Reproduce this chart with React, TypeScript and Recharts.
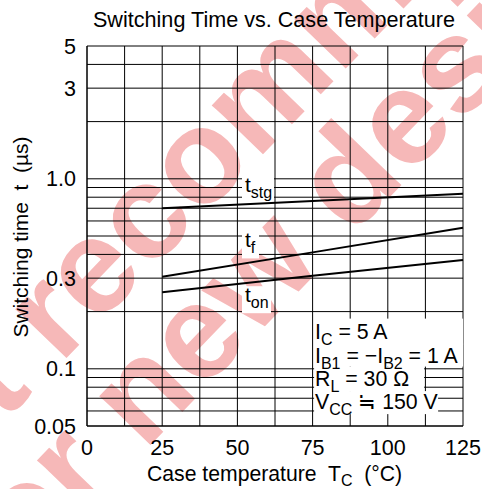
import React from "react";
import {
  LineChart,
  Line,
  XAxis,
  YAxis,
  CartesianGrid,
  ReferenceDot,
} from "recharts";

const FONT = "'Liberation Sans', Arial, Helvetica, sans-serif";

// values (Tc in °C, time in µs)
const temps = [25, 75, 125];
const tStg = [0.7, 0.765, 0.835];
const tF = [0.305, 0.41, 0.553];
const tOn = [0.253, 0.309, 0.374];

const xTicks = [0, 12.5, 25, 37.5, 50, 62.5, 75, 87.5, 100, 112.5, 125];
const xTickLabels = ["0", "25", "50", "75", "100", "125"];
const yGrid = [
  0.05, 0.06, 0.07, 0.08, 0.09, 0.1, 0.2, 0.3, 0.4, 0.5, 0.6, 0.7, 0.8, 0.9, 1,
  2, 3, 4, 5,
];
const yTickValues = [0.05, 0.1, 0.3, 1, 3, 5];
const yTickLabels = ["0.05", "0.1", "0.3", "1.0", "3", "5"];

const conditions = [
  { main: "I", sub: "C", rest: " = 5 A" },
  { main: "I", sub: "B1", rest: " = \u2212I", sub2: "B2", rest2: " = 1 A" },
  { main: "R", sub: "L", rest: " = 30 \u03A9" },
  { main: "V", sub: "CC", rest: " \u2252 150 V" },
];

const rows = temps.map((t, i) => ({
  T: t,
  tstg: tStg[i],
  tf: tF[i],
  ton: tOn[i],
}));

const fmtX = (v: number) => {
  const s = String(v);
  return xTickLabels.includes(s) ? s : "";
};
const fmtY = (v: number) => {
  const i = yTickValues.indexOf(v);
  return i >= 0 ? yTickLabels[i] : "";
};

function Tag(props: any) {
  const { cx, cy, sub, box, text } = props;
  return (
    <g>
      <rect x={cx + box[0]} y={cy + box[1]} width={box[2]} height={box[3]} fill="#fff" />
      <text x={cx + text[0]} y={cy + text[1]} fontSize={21} fontFamily={FONT} fill="#000">
        t
        <tspan fontSize={16} dy={6}>
          {sub}
        </tspan>
      </text>
    </g>
  );
}

function Conditions(props: any) {
  const { cx, cy } = props;
  const boxes = [
    [1.5, 7, 149, 26],
    [1.5, 32, 149, 23],
    [1.5, 55, 110, 25],
    [1.5, 79.5, 124, 23],
  ];
  const baselines = [27.8, 51.2, 74.8, 97.8];
  return (
    <g>
      {boxes.map((b, i) => (
        <rect key={i} x={cx + b[0]} y={cy + b[1]} width={b[2]} height={b[3]} fill="#fff" />
      ))}
      {conditions.map((c, i) => (
        <text
          key={i}
          x={cx + 2.4}
          y={cy + baselines[i]}
          fontSize={21.3}
          fontFamily={FONT}
          fill="#000"
          style={{ whiteSpace: "pre" }}
        >
          {c.main}
          <tspan fontSize={16} dy={6}>
            {c.sub}
          </tspan>
          <tspan dy={-6}>{c.rest}</tspan>
          {c.sub2 && (
            <>
              <tspan fontSize={16} dy={6}>
                {c.sub2}
              </tspan>
              <tspan dy={-6}>{c.rest2}</tspan>
            </>
          )}
        </text>
      ))}
    </g>
  );
}

export default function App() {
  return (
    <div style={{ position: "absolute", left: 0, top: 0, width: 482, height: 489, background: "#fff" }}>
      <svg
        width={482}
        height={489}
        style={{ position: "absolute", left: 0, top: 0 }}
        fontFamily={FONT}
      >
        <g fill="#f6b8b8" fontWeight="bold" fontSize={134}>
          <text x={-121} y={552} transform="rotate(-46 -121 552)">
            Not recommended
          </text>
          <text x={-6} y={607} transform="rotate(-46 -6 607)">
            for new design
          </text>
        </g>
        <text x={274} y={27} textAnchor="middle" fontSize={21.6} fill="#000">
          Switching Time vs. Case Temperature
        </text>
        <text x={147} y={481} fontSize={21.2} fill="#000" style={{ whiteSpace: "pre" }}>
          {"Case temperature  T"}
          <tspan fontSize={16} dy={5}>
            C
          </tspan>
          <tspan dy={-5}>{"  (\u00B0C)"}</tspan>
        </text>
        <text
          x={28}
          y={237}
          textAnchor="middle"
          fontSize={21}
          fill="#000"
          transform="rotate(-90 28 237)"
          style={{ whiteSpace: "pre" }}
        >
          {"Switching time  t  (\u00B5s)"}
        </text>
      </svg>
      <div style={{ position: "absolute", left: 0, top: 0 }}>
        <LineChart
          width={482}
          height={489}
          data={rows}
          margin={{ top: 46, right: 19, bottom: 0, left: 0 }}
        >
          <CartesianGrid stroke="#000" strokeWidth={1} />
          <XAxis
            dataKey="T"
            type="number"
            domain={[0, 125]}
            ticks={xTicks}
            interval={0}
            tickFormatter={fmtX}
            tickLine={false}
            tickSize={0}
            tickMargin={14}
            height={63}
            axisLine={{ stroke: "#000" }}
            tick={{ fill: "#000", fontSize: 21.5, fontFamily: FONT }}
          />
          <YAxis
            type="number"
            scale="log"
            domain={[0.05, 5]}
            allowDataOverflow
            ticks={yGrid}
            interval={0}
            tickFormatter={fmtY}
            tickLine={false}
            tickSize={0}
            tickMargin={11}
            width={87}
            axisLine={{ stroke: "#000" }}
            tick={{ fill: "#000", fontSize: 21.5, fontFamily: FONT }}
          />
          <Line type="linear" dataKey="tstg" stroke="#000" strokeWidth={2} dot={false} isAnimationActive={false} />
          <Line type="linear" dataKey="tf" stroke="#000" strokeWidth={2} dot={false} isAnimationActive={false} />
          <Line type="linear" dataKey="ton" stroke="#000" strokeWidth={2} dot={false} isAnimationActive={false} />
          <ReferenceDot
            x={50}
            y={0.9}
            r={1}
            ifOverflow="visible"
            shape={(p: any) => <Tag {...p} sub="stg" box={[4.6, -11.5, 32, 25]} text={[7.6, 4.5]} />}
          />
          <ReferenceDot
            x={50}
            y={0.4}
            r={1}
            ifOverflow="visible"
            shape={(p: any) => <Tag {...p} sub="f" box={[4.6, -24, 17, 28]} text={[7.6, -7.4]} />}
          />
          <ReferenceDot
            x={50}
            y={0.2}
            r={1}
            ifOverflow="visible"
            shape={(p: any) => <Tag {...p} sub="on" box={[4.6, -25.4, 29, 27]} text={[7.6, -9.4]} />}
          />
          <ReferenceDot
            x={75}
            y={0.2}
            r={1}
            ifOverflow="visible"
            shape={(p: any) => <Conditions {...p} />}
          />
        </LineChart>
      </div>
    </div>
  );
}
